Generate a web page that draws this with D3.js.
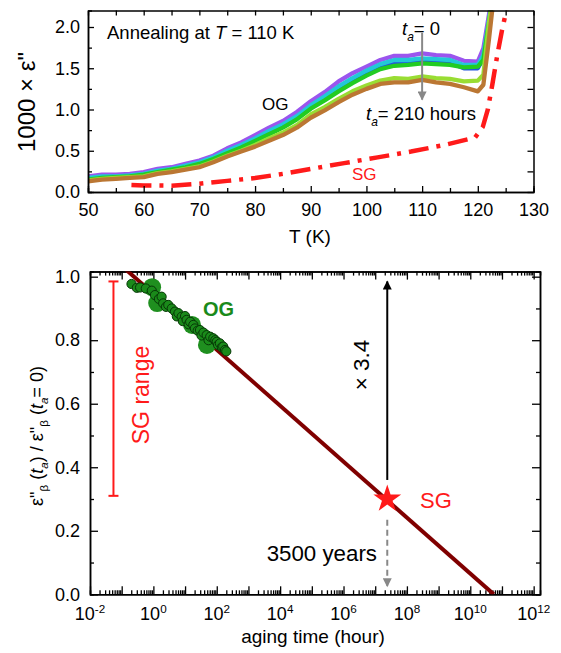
<!DOCTYPE html>
<html>
<head>
<meta charset="utf-8">
<script src="https://cdn.jsdelivr.net/npm/d3@7"></script>
<style>
body { margin: 0; background: #fff; }
svg { display: block; font-family: 'Liberation Sans', Arial, sans-serif; }
</style>
</head>
<body>
<svg id="canvas" width="561" height="653"></svg>
<script>
// ---- top panel data: 1000 x eps'' vs T, during annealing at 110 K ----
let tempK = [50, 52.5, 55, 57.5, 60, 62.5, 65, 67.5, 70, 72.5, 75, 77.5, 80, 82.5, 85, 87.5, 90, 92.5, 95, 97.5,
	100, 102.5, 105, 107.5, 110, 112.5, 115, 117.5, 120, 121, 122, 123];
let lossA = [0.19, 0.21, 0.21, 0.22, 0.24, 0.28, 0.30, 0.34, 0.38, 0.44, 0.53, 0.60, 0.69, 0.78, 0.86, 0.97, 1.10, 1.21, 1.34, 1.44,
	1.52, 1.60, 1.65, 1.65, 1.68, 1.66, 1.65, 1.59, 1.58, 1.74, 2.15, 2.60];
let lossB = [0.17, 0.19, 0.19, 0.20, 0.22, 0.26, 0.28, 0.32, 0.36, 0.42, 0.50, 0.57, 0.65, 0.74, 0.82, 0.92, 1.05, 1.16, 1.28, 1.38,
	1.47, 1.55, 1.60, 1.60, 1.62, 1.61, 1.60, 1.54, 1.54, 1.66, 2.08, 2.55];
let lossC = [0.15, 0.17, 0.18, 0.19, 0.20, 0.24, 0.27, 0.30, 0.33, 0.40, 0.48, 0.55, 0.63, 0.72, 0.80, 0.90, 1.02, 1.13, 1.25, 1.35,
	1.44, 1.53, 1.57, 1.56, 1.60, 1.58, 1.57, 1.50, 1.50, 1.62, 2.05, 2.50];
let lossD = [0.15, 0.17, 0.18, 0.19, 0.21, 0.24, 0.27, 0.30, 0.34, 0.40, 0.47, 0.54, 0.62, 0.70, 0.78, 0.88, 1.01, 1.11, 1.22, 1.32,
	1.41, 1.49, 1.53, 1.54, 1.56, 1.55, 1.54, 1.51, 1.52, 1.60, 2.05, 2.50];
let lossE = [0.14, 0.16, 0.17, 0.18, 0.19, 0.23, 0.25, 0.28, 0.31, 0.37, 0.44, 0.50, 0.57, 0.65, 0.72, 0.81, 0.94, 1.03, 1.13, 1.22,
	1.29, 1.35, 1.38, 1.37, 1.40, 1.38, 1.37, 1.34, 1.35, 1.42, 2.05, 2.50];
let lossF = [0.13, 0.15, 0.16, 0.17, 0.18, 0.22, 0.24, 0.27, 0.30, 0.36, 0.43, 0.49, 0.55, 0.62, 0.69, 0.78, 0.90, 0.99, 1.09, 1.18,
	1.25, 1.31, 1.33, 1.33, 1.36, 1.33, 1.31, 1.27, 1.22, 1.30, 1.85, 2.45];

// stable glass (SG) reference curve
let sgTempK = [57.8, 60, 65, 70, 75, 80, 85, 90, 96, 102, 108, 114, 119.5, 120.9, 121.8, 122.6, 123.5, 124.4, 125.3];
let sgLoss = [0.085, 0.08, 0.077, 0.10, 0.135, 0.17, 0.22, 0.28, 0.35, 0.42, 0.49, 0.57, 0.66, 0.79, 1.0, 1.30, 1.66, 1.98, 2.25];

// ---- bottom panel data: normalized beta relaxation vs aging time ----
let ogHours = [0.204, 0.30, 0.38, 0.575, 0.89, 1.12, 1.5, 1.82, 2.04, 2.5, 2.95, 3.8, 4.8, 5.5, 6.2, 7.8, 8.5, 10, 11.2, 13,
	14.5, 18.2, 20.4, 25, 29.5, 33, 38, 48, 55, 62, 78, 90, 100, 110, 126, 145, 160, 182, 200];
let ogRatio = [0.977, 0.965, 0.966, 0.963, 0.956, 0.942, 0.93, 0.937, 0.916, 0.905, 0.911, 0.900, 0.890, 0.875, 0.885, 0.874, 0.86, 0.876, 0.864, 0.85,
	0.858, 0.848, 0.837, 0.83, 0.832, 0.815, 0.824, 0.816, 0.80, 0.811, 0.806, 0.80, 0.795, 0.785, 0.790, 0.778, 0.78, 0.769, 0.765];
let haloHours = [0.91, 1.32, 16.6, 49];
let haloRatio = [0.967, 0.917, 0.848, 0.785];

let fitHours = [0.1, 5.5e10];
let fitRatio = [1.034, 0.0];

let sgHours = 2.4e7;      // ~3500 years
let sgRatio = 0.30;
let sgRangeHours = 0.055;
let sgRangeLow = 0.31;
let sgRangeHigh = 0.985;
let factorFrom = 0.36;    // x 3.4 arrow
let factorTo = 0.985;

let xLabelExp = [-2, 0, 2, 4, 6, 8, 10, 12];

let seriesColors = ['#9b55ee', '#22c8d8', '#2255dd', '#22cc22', '#99dd33', '#bb7733'];

let canvas = d3.select('#canvas');
let defs = canvas.append('defs');

let addParts = (text, parts, size) => {
	let shift = 0;
	parts.forEach(([s, kind]) => {
		let target = kind.includes('sub') ? size * 0.3 : kind.includes('sup') ? -size * 0.4 : 0;
		let t = text.append('tspan').text(s).attr('dy', target - shift);
		shift = target;
		if (kind.includes('sub') || kind.includes('sup')) t.attr('font-size', size * 0.65);
		if (kind.includes('i')) t.attr('font-style', 'italic');
	});
};

let styleAxis = (g, size) => {
	g.attr('font-size', size).attr('font-family', null);
	g.selectAll('.domain').attr('stroke', '#000').attr('stroke-width', 1.5);
	g.selectAll('.tick line').attr('stroke', '#000').attr('stroke-width', 1.3);
	g.selectAll('.tick text').attr('fill', '#000');
};

let arrowMarker = (id, color) => {
	defs.append('marker')
		.attr('id', id)
		.attr('viewBox', '0 0 10 10')
		.attr('refX', 9).attr('refY', 5)
		.attr('markerUnits', 'userSpaceOnUse')
		.attr('markerWidth', 13).attr('markerHeight', 9)
		.attr('orient', 'auto')
		.append('path').attr('d', 'M0,0 L10,5 L0,10 z').attr('fill', color);
};
arrowMarker('headBlack', '#000');
arrowMarker('headGrey', '#888');

// ================= TOP PANEL =================
let xT = d3.scaleLinear().domain([50, 130]).range([88, 533.5]);
let yT = d3.scaleLinear().domain([0, 2.2]).range([192, 10.5]);

defs.append('clipPath').attr('id', 'clipTop').append('rect')
	.attr('x', 88).attr('y', 10.5).attr('width', 445.5).attr('height', 181.5);

let topPanel = canvas.append('g');

let lineT = d3.line().x(d => xT(d[0])).y(d => yT(d[1]));
let lossSeries = [lossA, lossB, lossC, lossD, lossE, lossF];
let curves = topPanel.append('g').attr('clip-path', 'url(#clipTop)');
let drawOrder = [2, 0, 1, 3, 4, 5];
drawOrder.forEach(i => {
	curves.append('path')
		.attr('d', lineT(tempK.map((t, j) => [t, lossSeries[i][j]])))
		.attr('fill', 'none')
		.attr('stroke', seriesColors[i])
		.attr('stroke-width', 4.3)
		.attr('stroke-linejoin', 'round');
});
curves.append('path')
	.attr('d', lineT(sgTempK.map((t, j) => [t, sgLoss[j]])))
	.attr('fill', 'none')
	.attr('stroke', '#ff1a1a')
	.attr('stroke-width', 4.5)
	.attr('stroke-dasharray', '20,8,4,8');

// axes (ticks inward, mirrored)
let ax;
ax = topPanel.append('g').attr('transform', 'translate(0,192)')
	.call(d3.axisBottom(xT).tickValues(d3.range(50, 131, 10)).tickFormat(d3.format('d')).tickSizeInner(-6).tickSizeOuter(0).tickPadding(11));
styleAxis(ax, 18);
ax = topPanel.append('g').attr('transform', 'translate(0,192)')
	.call(d3.axisBottom(xT).tickValues(d3.range(55, 130, 10)).tickFormat('').tickSize(-4));
styleAxis(ax, 18);
ax = topPanel.append('g').attr('transform', 'translate(0,10.5)')
	.call(d3.axisTop(xT).tickValues(d3.range(50, 131, 5)).tickFormat('').tickSizeInner(-5).tickSizeOuter(0));
styleAxis(ax, 18);
ax = topPanel.append('g').attr('transform', 'translate(88,0)')
	.call(d3.axisLeft(yT).tickValues(d3.range(0, 2.01, 0.5)).tickFormat(d3.format('.1f')).tickSizeInner(-6).tickSizeOuter(0).tickPadding(8));
styleAxis(ax, 18);
ax = topPanel.append('g').attr('transform', 'translate(88,0)')
	.call(d3.axisLeft(yT).tickValues([0.25, 0.75, 1.25, 1.75]).tickFormat('').tickSize(-4));
styleAxis(ax, 18);
ax = topPanel.append('g').attr('transform', 'translate(533.5,0)')
	.call(d3.axisRight(yT).tickValues(d3.range(0, 2.01, 0.25)).tickFormat('').tickSizeInner(-6).tickSizeOuter(0));
styleAxis(ax, 18);

// labels
topPanel.append('text').attr('x', 310).attr('y', 243).attr('text-anchor', 'middle').attr('font-size', 19)
	.text('T (K)');
topPanel.append('text').attr('transform', 'translate(35,102) rotate(-90)').attr('text-anchor', 'middle').attr('font-size', 24)
	.text('1000 × ε"');
let ann = topPanel.append('text').attr('x', 107).attr('y', 39).attr('font-size', 18.5);
addParts(ann, [['Annealing at ', 'n'], ['T', 'i'], [' = 110 K', 'n']], 18.5);
topPanel.append('text').attr('x', 262).attr('y', 110).attr('font-size', 17).text('OG');
topPanel.append('text').attr('x', 352).attr('y', 180).attr('font-size', 17).attr('fill', '#ff1a1a').text('SG');
let ta0 = topPanel.append('text').attr('x', 402).attr('y', 35).attr('font-size', 18.5);
addParts(ta0, [['t', 'i'], ['a', 'subi'], ['= 0', 'n']], 18.5);
let ta1 = topPanel.append('text').attr('x', 366).attr('y', 120).attr('font-size', 18.5);
addParts(ta1, [['t', 'i'], ['a', 'subi'], ['= 210 hours', 'n']], 18.5);
topPanel.append('line')
	.attr('x1', xT(110)).attr('x2', xT(110))
	.attr('y1', yT(1.93)).attr('y2', yT(1.12))
	.attr('stroke', '#888').attr('stroke-width', 2)
	.attr('marker-end', 'url(#headGrey)');

// ================= BOTTOM PANEL =================
let xB = d3.scaleLog().domain([1e-2, Math.pow(10, 12.2)]).range([90, 540]);
let yB = d3.scaleLinear().domain([0, 1.016]).range([594.3, 271.6]);

defs.append('clipPath').attr('id', 'clipBot').append('rect')
	.attr('x', 90).attr('y', 271.6).attr('width', 450).attr('height', 322.7);

let botPanel = canvas.append('g');

let majorDecades = d3.range(-2, 13).map(e => Math.pow(10, e));
let minorDecades = [];
d3.range(-2, 12).forEach(e => {
	for (let k = 2; k <= 9; k++) minorDecades.push(k * Math.pow(10, e));
});

ax = botPanel.append('g').attr('transform', 'translate(0,594.3)')
	.call(d3.axisBottom(xB).tickValues(majorDecades).tickFormat('').tickSizeInner(-8).tickSizeOuter(0));
styleAxis(ax, 18);
ax = botPanel.append('g').attr('transform', 'translate(0,594.3)')
	.call(d3.axisBottom(xB).tickValues(minorDecades).tickFormat('').tickSize(-4));
styleAxis(ax, 18);
ax = botPanel.append('g').attr('transform', 'translate(0,271.6)')
	.call(d3.axisTop(xB).tickValues(majorDecades).tickFormat('').tickSizeInner(-8).tickSizeOuter(0));
styleAxis(ax, 18);
ax = botPanel.append('g').attr('transform', 'translate(0,271.6)')
	.call(d3.axisTop(xB).tickValues(minorDecades).tickFormat('').tickSize(-4));
styleAxis(ax, 18);
ax = botPanel.append('g').attr('transform', 'translate(90,0)')
	.call(d3.axisLeft(yB).tickValues(d3.range(0, 1.01, 0.2)).tickFormat(d3.format('.1f')).tickSizeInner(-8).tickSizeOuter(0).tickPadding(10));
styleAxis(ax, 18);
ax = botPanel.append('g').attr('transform', 'translate(90,0)')
	.call(d3.axisLeft(yB).tickValues(d3.range(0.1, 1, 0.2)).tickFormat('').tickSize(-4));
styleAxis(ax, 18);
ax = botPanel.append('g').attr('transform', 'translate(540,0)')
	.call(d3.axisRight(yB).tickValues(d3.range(0, 1.01, 0.2)).tickFormat('').tickSizeInner(-8).tickSizeOuter(0));
styleAxis(ax, 18);
ax = botPanel.append('g').attr('transform', 'translate(540,0)')
	.call(d3.axisRight(yB).tickValues(d3.range(0.1, 1, 0.2)).tickFormat('').tickSize(-4));
styleAxis(ax, 18);

xLabelExp.forEach(e => {
	let t = botPanel.append('text').attr('x', xB(Math.pow(10, e))).attr('y', 620)
		.attr('text-anchor', 'middle').attr('font-size', 18);
	addParts(t, [['10', 'n'], [String(e), 'sup']], 18);
});

botPanel.append('text').attr('x', 313).attr('y', 643).attr('text-anchor', 'middle').attr('font-size', 19)
	.text('aging time (hour)');
let yLab = botPanel.append('text').attr('transform', 'translate(43,436) rotate(-90)')
	.attr('text-anchor', 'middle').attr('font-size', 18);
addParts(yLab, [['ε"', 'n'], ['β', 'sub'], [' (', 'n'], ['t', 'i'], ['a', 'subi'], [') / ε"', 'n'],
	['β', 'sub'], [' (', 'n'], ['t', 'i'], ['a', 'subi'], ['= 0)', 'n']], 18);

// fit line
let plotB = botPanel.append('g').attr('clip-path', 'url(#clipBot)');
plotB.append('path')
	.attr('d', d3.line().x(d => xB(d[0])).y(d => yB(d[1]))(fitHours.map((h, i) => [h, fitRatio[i]])))
	.attr('stroke', '#800000').attr('stroke-width', 4).attr('fill', 'none');

// SG range bar
botPanel.append('line')
	.attr('x1', xB(sgRangeHours)).attr('x2', xB(sgRangeHours))
	.attr('y1', yB(sgRangeLow)).attr('y2', yB(sgRangeHigh))
	.attr('stroke', '#ff1a1a').attr('stroke-width', 2);
[sgRangeLow, sgRangeHigh].forEach(v => {
	botPanel.append('line')
		.attr('x1', xB(sgRangeHours) - 5).attr('x2', xB(sgRangeHours) + 5)
		.attr('y1', yB(v)).attr('y2', yB(v))
		.attr('stroke', '#ff1a1a').attr('stroke-width', 2);
});
botPanel.append('text').attr('transform', 'translate(141,395) rotate(-90)')
	.attr('text-anchor', 'middle').attr('dy', '0.35em').attr('font-size', 23).attr('fill', '#ff1a1a')
	.text('SG range');

// OG points
plotB.selectAll('.halo')
	.data(haloHours.map((h, i) => [h, haloRatio[i]]))
	.enter().append('circle')
	.attr('class', 'halo')
	.attr('cx', d => xB(d[0])).attr('cy', d => yB(d[1])).attr('r', 9)
	.attr('fill', '#1f8f1f');
plotB.selectAll('.og')
	.data(ogHours.map((h, i) => [h, ogRatio[i]]))
	.enter().append('circle')
	.attr('class', 'og')
	.attr('cx', d => xB(d[0])).attr('cy', d => yB(d[1])).attr('r', 4.6)
	.attr('fill', '#1a8a1a').attr('stroke', '#063806').attr('stroke-width', 1);
botPanel.append('text').attr('x', 203).attr('y', 316).attr('font-size', 20).attr('font-weight', 'bold')
	.attr('fill', '#1a8a1a').text('OG');

// x 3.4 arrow
botPanel.append('line')
	.attr('x1', xB(sgHours)).attr('x2', xB(sgHours))
	.attr('y1', yB(factorFrom)).attr('y2', yB(factorTo))
	.attr('stroke', '#000').attr('stroke-width', 2)
	.attr('marker-end', 'url(#headBlack)');
botPanel.append('text').attr('transform', 'translate(361,365) rotate(-90)')
	.attr('text-anchor', 'middle').attr('dy', '0.35em').attr('font-size', 22.5)
	.text('× 3.4');

// grey dashed arrow to the time axis
botPanel.append('line')
	.attr('x1', xB(sgHours)).attr('x2', xB(sgHours))
	.attr('y1', yB(sgRatio - 0.065)).attr('y2', yB(0.025))
	.attr('stroke', '#888').attr('stroke-width', 2).attr('stroke-dasharray', '6,4')
	.attr('marker-end', 'url(#headGrey)');
botPanel.append('text').attr('x', 377).attr('y', 561).attr('text-anchor', 'end').attr('font-size', 22.3)
	.text('3500 years');

// SG star
botPanel.append('path')
	.attr('d', d3.symbol(d3.symbolStar).size(240)())
	.attr('transform', `translate(${xB(sgHours)},${yB(sgRatio)})`)
	.attr('fill', '#ff1a1a');
botPanel.append('text').attr('x', 420).attr('y', 508).attr('font-size', 22).attr('fill', '#ff1a1a').text('SG');
</script>
</body>
</html>
